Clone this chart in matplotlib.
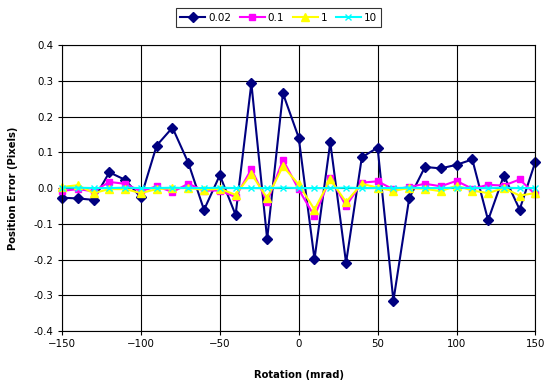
import matplotlib
matplotlib.use("Agg")
import matplotlib.pyplot as plt

# rotation angles (mrad)
rotation = list(range(-150, 151, 10))

# position error (pixels) for each noise level
err_002 = [-0.027, -0.029, -0.033, 0.044, 0.023, -0.026, 0.119, 0.169, 0.071, -0.061,
           0.036, -0.075, 0.293, -0.143, 0.265, 0.141, -0.199, 0.128, -0.209, 0.086,
           0.113, -0.315, -0.029, 0.059, 0.055, 0.065, 0.080, -0.090, 0.035, -0.060, 0.074]
err_01 = [-0.008, -0.003, -0.009, 0.017, 0.012, -0.009, 0.005, -0.011, 0.012, -0.007,
          -0.007, -0.025, 0.053, -0.039, 0.079, -0.004, -0.079, 0.029, -0.050, 0.015,
          0.019, -0.004, 0.003, 0.012, 0.005, 0.020, -0.002, 0.009, 0.007, 0.024, -0.018]
err_1 = [0.003, 0.008, -0.014, -0.003, -0.003, -0.014, -0.003, 0.000, 0.000, -0.005,
         -0.002, -0.019, 0.040, -0.028, 0.061, 0.010, -0.060, 0.024, -0.039, 0.012,
         0.001, -0.008, 0.000, -0.002, -0.009, 0.007, -0.007, -0.014, 0.000, -0.021, -0.014]
err_10 = [0.001, 0.001, 0.000, 0.000, 0.001, 0.000, 0.000, 0.001, 0.000, 0.000,
          0.001, 0.000, 0.000, 0.000, 0.001, 0.000, 0.000, 0.000, 0.001, 0.000,
          0.000, 0.000, 0.001, 0.000, 0.000, 0.001, 0.000, 0.000, 0.001, 0.000, 0.000]

labels = ["0.02", "0.1", "1", "10"]

fig = plt.figure(figsize=(5.56, 3.90), dpi=100)
ax = fig.add_axes([0.1115, 0.151, 0.8515, 0.7336])

ax.plot(rotation, err_002, color="#000080", marker="D", markersize=5, lw=1.5, label=labels[0], clip_on=False)
ax.plot(rotation, err_01, color="#FF00FF", marker="s", markersize=5, lw=1.5, label=labels[1], clip_on=False)
ax.plot(rotation, err_1, color="#FFFF00", marker="^", markersize=6, lw=1.5, label=labels[2], clip_on=False)
ax.plot(rotation, err_10, color="#00FFFF", marker="x", markersize=5, mew=1, lw=1.5, label=labels[3], clip_on=False)

ax.set_xlim(-150, 150)
ax.set_ylim(-0.4, 0.4)
ax.set_xticks(range(-150, 151, 50))
ax.set_yticks([i / 10 for i in range(-4, 5)])
ax.set_yticklabels(["%.1f" % (i / 10) for i in range(-4, 5)])
ax.grid(True, color="black", lw=0.8)
ax.set_axisbelow(True)
for s in ax.spines.values():
    s.set_linewidth(0.8)
ax.tick_params(direction="out", length=3, width=0.8, labelsize=7.4, pad=3)

ax.set_xlabel("Rotation (mrad)", fontsize=7.2, fontweight="bold")
ax.set_ylabel("Position Error (Pixels)", fontsize=7.2, fontweight="bold")
ax.xaxis.set_label_coords(0.5, -0.136)
ax.yaxis.set_label_coords(-0.093, 0.5)

leg = fig.legend(loc="center", bbox_to_anchor=(0.501, 0.955), ncol=4, fontsize=7.5,
                 frameon=True, fancybox=False, edgecolor="black", borderpad=0.4,
                 handlelength=2.4, handletextpad=0.3, columnspacing=0.8)
leg.get_frame().set_linewidth(0.8)

fig.savefig("out.png", dpi=100)
